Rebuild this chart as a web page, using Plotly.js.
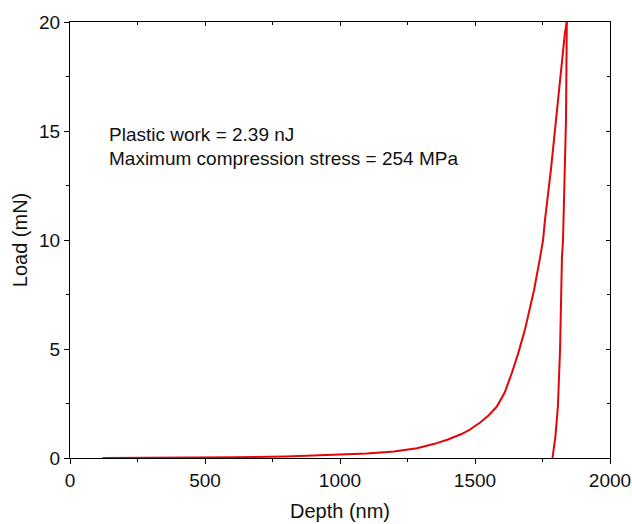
<!DOCTYPE html>
<html>
<head>
<meta charset="utf-8">
<script src="https://cdn.plot.ly/plotly-3.0.1.min.js"></script>
<style>html,body{margin:0;padding:0;background:#fff;}#chart{width:632px;height:524px;}</style>
</head>
<body>
<div id="chart"></div>
<script>
// Loading segment (depth nm, load mN)
const loadDepth = [120, 400, 600, 800, 1000, 1100, 1200, 1285, 1350, 1400, 1450, 1481, 1519, 1550, 1581, 1610, 1637, 1660, 1685, 1719, 1741, 1752, 1759, 1781, 1800, 1819, 1833, 1840];
const loadLoad  = [0, 0.01, 0.03, 0.07, 0.15, 0.21, 0.3, 0.45, 0.65, 0.85, 1.1, 1.3, 1.63, 1.95, 2.36, 3.0, 3.92, 4.8, 5.89, 7.72, 9.19, 10.0, 10.9, 13.2, 15.5, 17.8, 19.5, 20.0];
// Unloading segment
const unloadDepth = [1840, 1837, 1826, 1822, 1815, 1807, 1798, 1787];
const unloadLoad  = [20, 15.5, 10.0, 9.19, 4.97, 2.36, 1.0, 0];

const annotLines = ["Plastic work = 2.39 nJ", "Maximum compression stress = 254 MPa"];

const red = 'rgb(226,6,12)';
const font = 'Liberation Sans, Arial, sans-serif';

const traces = [
  {x: loadDepth, y: loadLoad, mode: 'lines', line: {color: red, width: 2}, showlegend: false},
  {x: unloadDepth, y: unloadLoad, mode: 'lines', line: {color: red, width: 2}, showlegend: false}
];

const common = {showgrid: false, zeroline: false, showline: true, linecolor: '#000', linewidth: 1, tickcolor: '#000'};

const layout = {
  width: 632, height: 524,
  margin: {l: 70, r: 22, t: 22, b: 66},
  paper_bgcolor: '#fff', plot_bgcolor: '#fff',
  font: {family: font, color: '#111', size: 19},
  xaxis: Object.assign({}, common, {
    range: [0, 2000], dtick: 500, tick0: 0, ticks: 'outside', ticklen: 5,
    minor: {ticks: 'outside', dtick: 250, ticklen: 3, tickcolor: '#000'},
    title: {text: 'Depth (nm)', font: {size: 20}, standoff: 14},
    tickfont: {size: 19}
  }),
  yaxis: Object.assign({}, common, {
    range: [0, 20], dtick: 5, tick0: 0, ticks: 'outside', ticklen: 5,
    minor: {ticks: 'outside', dtick: 2.5, ticklen: 3, tickcolor: '#000'},
    title: {text: 'Load (mN)', font: {size: 20}, standoff: 6},
    tickfont: {size: 19}
  }),
  xaxis2: Object.assign({}, common, {
    range: [0, 2000], dtick: 500, overlaying: 'x', side: 'top', ticks: 'inside', ticklen: 4,
    showticklabels: false, minor: {ticks: 'inside', dtick: 250, ticklen: 3, tickcolor: '#000'}
  }),
  yaxis2: Object.assign({}, common, {
    range: [0, 20], dtick: 5, overlaying: 'y', side: 'right', ticks: 'inside', ticklen: 4,
    showticklabels: false, minor: {ticks: 'inside', dtick: 2.5, ticklen: 3, tickcolor: '#000'}
  }),
  annotations: [
    {xref: 'paper', yref: 'paper', x: 0.0685, y: 0.743, xanchor: 'left', yanchor: 'middle', showarrow: false, text: annotLines[0], font: {size: 19, color: '#111'}},
    {xref: 'paper', yref: 'paper', x: 0.0685, y: 0.688, xanchor: 'left', yanchor: 'middle', showarrow: false, text: annotLines[1], font: {size: 19, color: '#111'}}
  ]
};

traces.push({x: [null], y: [null], xaxis: 'x2', yaxis: 'y2', showlegend: false, hoverinfo: 'skip'});

Plotly.newPlot('chart', traces, layout, {displayModeBar: false, staticPlot: true});
</script>
</body>
</html>
